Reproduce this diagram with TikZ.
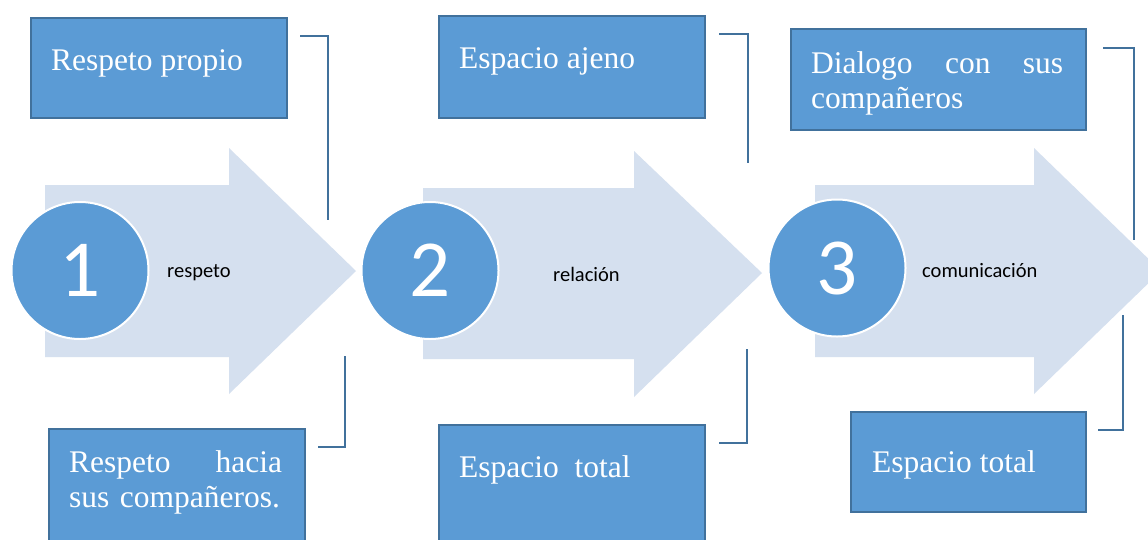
\documentclass[tikz,border=0pt]{standalone}
\usepackage{fontspec}
\setmainfont{Liberation Serif}
\newfontfamily\calfont{Carlito}
\definecolor{boxfill}{HTML}{5B9BD5}
\definecolor{boxline}{HTML}{41719C}
\definecolor{arrowfill}{HTML}{D5E0EF}
\begin{document}
\begin{tikzpicture}[x=1pt,y=-1pt,
  box/.style={draw=boxline, line width=1.6pt, fill=boxfill, rectangle, inner sep=0pt, anchor=north west},
  boxtext/.style={text=white, font=\fontsize{31.5}{35}\selectfont, inner sep=0pt, anchor=base west, align=left},
  num/.style={circle, fill=boxfill, draw=white, line width=2pt, minimum size=137pt, inner sep=0pt,
     text=white, font=\calfont\fontsize{81}{81}\selectfont},
  lab/.style={font=\calfont\fontsize{20.5}{24}\selectfont, inner sep=0pt, anchor=base west},
  brk/.style={draw=boxline, line width=2pt}]
\clip (0,0) rectangle (1148,539);
\fill[white] (0,0) rectangle (1148,539);
% arrows
\fill[arrowfill] (45,185) -- (229,185) -- (229,148) -- (356,271) -- (229,394) -- (229,357) -- (45,357) -- cycle;
\fill[arrowfill] (423,188) -- (634,188) -- (634,151) -- (762,273) -- (634,397) -- (634,359) -- (423,359) -- cycle;
\fill[arrowfill] (815,185) -- (1034,185) -- (1034,148) -- (1161,271) -- (1034,394) -- (1034,357) -- (815,357) -- cycle;
% circles
\node[num] (c1) at (80,270.5) {1};
\node[num] (c2) at (430,270.5) {2};
\node[num] (c3) at (837,268) {3};
% labels
\node[lab] (l1) at (167,277) {respeto};
\node[lab] (l2) at (553,281) {relación};
\node[lab] (l3) at (922,277) {comunicación};
% boxes
\node[box, minimum width=256pt, minimum height=100pt] (b1) at (30,17) {};
\node[box, minimum width=256pt, minimum height=130pt] (b2) at (48,428) {};
\node[box, minimum width=266pt, minimum height=102pt] (b3) at (438,15) {};
\node[box, minimum width=266pt, minimum height=130pt] (b4) at (438,424) {};
\node[box, minimum width=295pt, minimum height=101pt] (b5) at (790,28) {};
\node[box, minimum width=235pt, minimum height=100pt] (b6) at (850,411) {};
% box texts
\node[boxtext] (t1) at (51,70) {Respeto propio};
\node[boxtext, text width=213pt] (t2) at (69,472) {Respeto\hfill hacia\\sus compañeros.};
\node[boxtext] (t3) at (459,68) {Espacio ajeno};
\node[boxtext] (t4) at (459,477) {Espacio\ \ total};
\node[boxtext, text width=252pt] (t5) at (811,73) {Dialogo\hfill con\hfill sus\\compañeros};
\node[boxtext] (t6) at (872,472) {Espacio total};
% brackets
\coordinate (k1a) at (300,36);   \coordinate (k1b) at (328,220);
\coordinate (k2a) at (345,356);  \coordinate (k2b) at (318,447);
\coordinate (k3a) at (719,34);   \coordinate (k3b) at (748,163);
\coordinate (k4a) at (747,349);  \coordinate (k4b) at (719,443);
\coordinate (k5a) at (1103,48);  \coordinate (k5b) at (1134,240);
\coordinate (k6a) at (1123,315); \coordinate (k6b) at (1098,430);
\draw[brk] (k1a) -| (k1b);
\draw[brk] (k2a) |- (k2b);
\draw[brk] (k3a) -| (k3b);
\draw[brk] (k4a) |- (k4b);
\draw[brk] (k5a) -| (k5b);
\draw[brk] (k6a) |- (k6b);
\end{tikzpicture}
\end{document}
